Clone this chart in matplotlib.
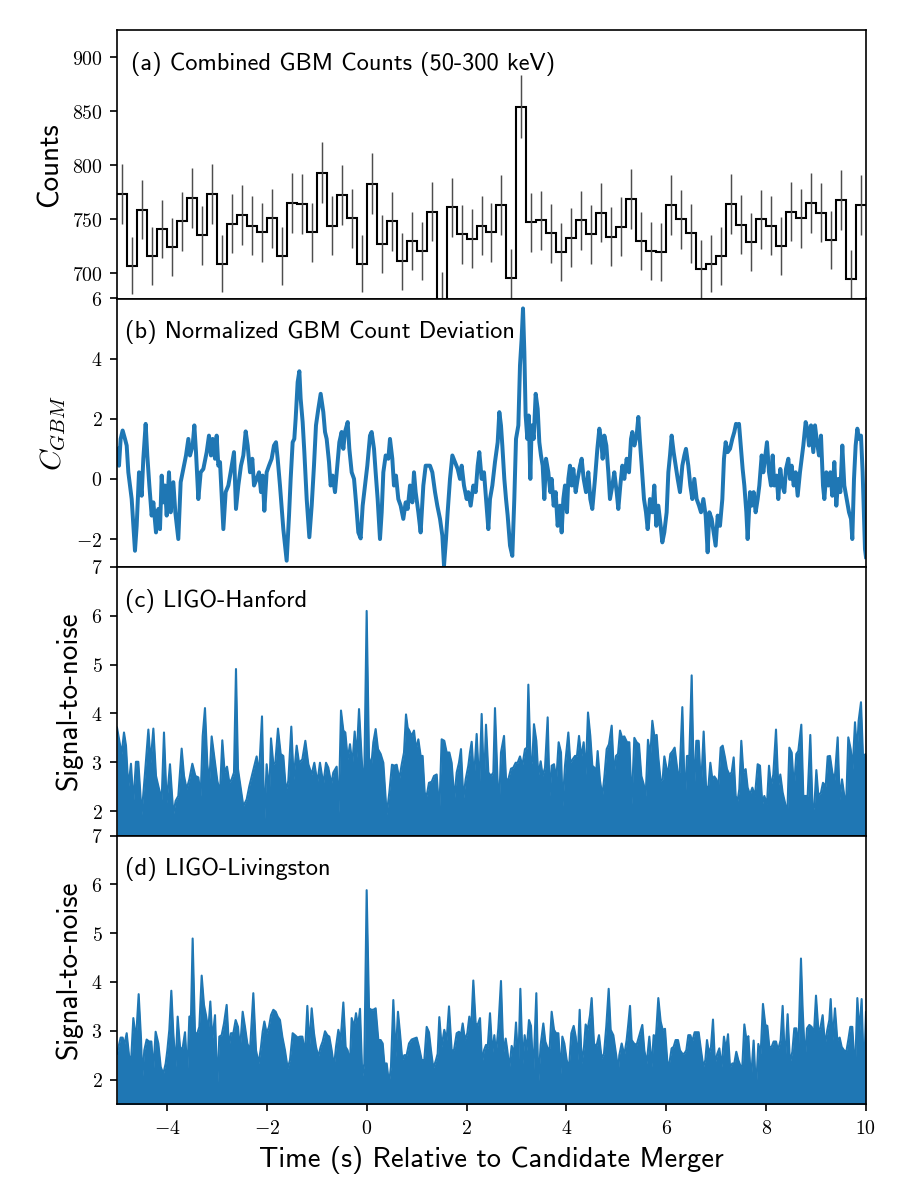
import numpy as np
import matplotlib
matplotlib.use("Agg")
import matplotlib.pyplot as plt
from matplotlib.ticker import FuncFormatter

plt.rcParams['mathtext.fontset'] = 'cm'

# (a) combined GBM counts, 0.2 s bins from -5 to 10 s
bin_start = -5.0
bin_width = 0.2
counts = [773, 707, 759, 716, 741, 724, 748, 770, 735, 773,
          709, 746, 754, 744, 738, 751, 716, 765, 764, 738,
          793, 744, 772, 751, 709, 783, 727, 748, 711, 730,
          721, 757, 675, 761, 736, 732, 744, 738, 763, 696,
          854, 747, 749, 737, 720, 733, 749, 736, 756, 734,
          743, 769, 730, 721, 720, 763, 750, 737, 704, 709,
          716, 764, 745, 729, 750, 744, 725, 757, 751, 765,
          756, 731, 768, 695, 763]

# (b) normalized GBM count deviation
t_dev = [-5.000, -4.960, -4.927, -4.887, -4.840, -4.806, -4.773, -4.740, -4.706, -4.673,
         -4.640, -4.606, -4.559, -4.506, -4.473, -4.426, -4.393, -4.352, -4.306, -4.272,
         -4.219, -4.172, -4.139, -4.105, -4.072, -4.039, -4.005, -3.959, -3.925, -3.872,
         -3.832, -3.772, -3.725, -3.672, -3.618, -3.571, -3.538, -3.485, -3.451, -3.418,
         -3.371, -3.324, -3.271, -3.204, -3.158, -3.118, -3.084, -3.037, -3.004, -2.971,
         -2.937, -2.870, -2.824, -2.770, -2.724, -2.657, -2.617, -2.570, -2.517, -2.470,
         -2.423, -2.383, -2.336, -2.290, -2.256, -2.203, -2.156, -2.116, -2.083, -2.049,
         -2.003, -1.956, -1.903, -1.856, -1.816, -1.782, -1.736, -1.669, -1.602, -1.555,
         -1.522, -1.482, -1.449, -1.422, -1.382, -1.348, -1.322, -1.282, -1.248, -1.201,
         -1.148, -1.101, -1.055, -1.015, -0.968, -0.921, -0.868, -0.834, -0.801, -0.754,
         -0.721, -0.681, -0.634, -0.587, -0.547, -0.501, -0.467, -0.434, -0.380, -0.347,
         -0.300, -0.253, -0.213, -0.167, -0.120, -0.080, -0.033, 0.013, 0.067, 0.100,
         0.147, 0.180, 0.220, 0.267, 0.301, 0.334, 0.381, 0.434, 0.467, 0.514,
         0.547, 0.587, 0.634, 0.681, 0.734, 0.781, 0.821, 0.868, 0.915, 0.948,
         0.981, 1.035, 1.081, 1.135, 1.182, 1.222, 1.268, 1.315, 1.369, 1.415,
         1.469, 1.516, 1.549, 1.589, 1.622, 1.669, 1.716, 1.769, 1.823, 1.869,
         1.903, 1.949, 2.003, 2.036, 2.083, 2.136, 2.183, 2.223, 2.256, 2.303,
         2.350,
         2.370, 2.437, 2.470, 2.517, 2.570, 2.624, 2.657, 2.690, 2.717, 2.757,
         2.791, 2.824, 2.871, 2.917, 2.957, 2.991, 3.038, 3.071, 3.104, 3.131,
         3.158, 3.184, 3.218, 3.245, 3.278, 3.305, 3.345, 3.385, 3.425, 3.458,
         3.491, 3.525, 3.558, 3.592, 3.638, 3.678, 3.705, 3.745, 3.785, 3.825,
         3.872, 3.905, 3.939, 3.972, 4.012, 4.039, 4.072, 4.106, 4.139, 4.186,
         4.226, 4.273, 4.306, 4.346, 4.393, 4.439, 4.479, 4.519, 4.573, 4.620,
         4.660, 4.693, 4.726, 4.760, 4.800, 4.840, 4.873, 4.920, 4.960, 5.007,
         5.040, 5.080, 5.120, 5.160, 5.207, 5.254, 5.294, 5.321, 5.361, 5.407,
         5.441, 5.474, 5.508, 5.554, 5.594, 5.628, 5.674, 5.721, 5.761, 5.801,
         5.841, 5.888, 5.921, 5.961, 6.008, 6.042, 6.075, 6.108, 6.148, 6.188,
         6.229, 6.275, 6.322, 6.362, 6.395, 6.442, 6.482, 6.522, 6.562, 6.609,
         6.656, 6.696, 6.743, 6.789, 6.829, 6.863, 6.909, 6.949, 6.989, 7.030,
         7.076, 7.123, 7.156, 7.190, 7.230, 7.277, 7.323, 7.363, 7.397, 7.430,
         7.457, 7.497, 7.530, 7.564, 7.604, 7.630, 7.677, 7.710, 7.750, 7.790,
         7.831, 7.864, 7.911, 7.944, 7.977, 8.017, 8.058, 8.098, 8.131, 8.164,
         8.211, 8.244, 8.284, 8.325, 8.365, 8.398, 8.445, 8.478, 8.512, 8.552,
         8.592, 8.632, 8.678, 8.712, 8.745, 8.792, 8.825, 8.859, 8.899, 8.945,
         8.979, 9.019, 9.059, 9.099, 9.139, 9.166, 9.206, 9.246, 9.286, 9.326,
         9.366, 9.406, 9.446, 9.486, 9.526, 9.566, 9.613, 9.660, 9.700, 9.726,
         9.760, 9.793, 9.827, 9.860, 9.900, 9.933, 9.980, 10.000]
c_dev = [1.00, 0.44, 1.33, 1.61, 1.33, 1.11, 0.22, -0.22, -0.67, -1.56,
         -2.39, -1.56, 0.22, -0.56, 0.67, 1.83, 0.78, -0.22, -1.22, -0.78,
         -1.78, -1.00, -1.67, 0.11, -0.78, -0.22, -1.22, 0.22, -1.11, -0.11,
         -1.11, -2.00, -0.11, 0.33, 0.78, 1.33, 0.78, 1.11, 1.78, 0.89,
         -0.67, 0.22, 0.33, 0.89, 1.44, 0.78, 1.33, 0.67, 1.44, 0.44,
         0.56, -1.67, -0.44, -0.22, 0.22, 0.89, -1.00, -0.22, 0.44, 0.78,
         1.58, 1.11, 0.22, 0.67, -0.22, 0.00, 0.22, -0.44, 0.11, -1.06,
         0.22, 0.44, 0.67, 1.11, 1.22, 0.67, -0.22, -1.67, -2.72, -1.22,
         0.00, 1.22, 1.33, 2.00, 3.22, 3.58, 2.67, 1.89, 0.89, -0.67,
         -1.94, -0.89, 0.44, 1.78, 2.33, 2.83, 2.22, 1.56, 1.33, 0.56,
         -0.22, 0.11, -0.44, 0.44, 1.22, 1.56, 1.00, 1.56, 1.89, 1.00,
         0.22, 0.00, -0.78, -1.78, -1.98, -0.89, -0.22, 0.44, 1.44, 1.56,
         1.00, 0.22, -0.67, -2.00, -1.11, 0.22, 0.78, 0.67, 1.33, 0.67,
         -0.22, 0.11, -0.67, -0.89, -1.33, -0.78, -1.00, -0.22, -0.78, 0.22,
         -0.44, -1.11, -1.78, -0.22, 0.44, 0.44, 0.44, 0.22, -0.44, -0.89,
         -1.33, -1.89, -2.89, -2.00, -1.11, 0.00, 0.78, 0.56, 0.33, 0.00,
         0.44, -0.22, -0.67, -0.44, -0.89, -0.22, -0.44, 0.44, 0.89, 0.00,
         0.22,
         -0.22, -1.67, -0.67, -0.22, 0.56, 1.22, 2.22, 1.78, 1.11, 0.00,
         -0.67, -1.22, -2.22, -2.56, -0.67, 1.33, 1.78, 3.78, 4.67, 5.67,
         4.22, 2.11, 1.33, 2.11, 0.00, 1.78, 1.33, 2.83, 2.33, 1.22,
         0.78, 0.44, -0.67, 0.67, 0.22, -0.44, 0.00, -0.89, -0.44, -1.56,
         -0.89, -1.78, -0.67, -0.22, -1.11, 0.00, 0.44, -0.22, 0.33, -0.44,
         0.00, 0.44, 0.67, 0.00, -0.44, 0.22, -0.67, -1.00, 0.00, 1.00,
         1.67, 1.33, 0.67, 1.44, 1.11, 0.22, -0.67, -0.22, 0.22, -0.44,
         -1.00, -0.22, 0.44, 0.00, 0.67, 0.22, 1.33, 1.56, 1.11, 1.44,
         2.06, 1.22, 0.44, -0.67, -1.11, -1.67, -0.67, -1.11, -0.22, -1.56,
         -0.89, -1.56, -2.11, -1.78, -1.11, 0.22, 0.78, 1.44, 0.89, 0.44,
         0.00, -0.44, 0.44, 0.78, 1.00, 0.44, -0.22, -0.67, 0.00, -0.67,
         -0.89, -1.11, -0.67, -1.22, -2.44, -1.11, -1.33, -1.78, -2.22, -1.22,
         -1.56, -0.67, 0.67, 1.22, 0.89, 1.00, 1.33, 1.56, 1.83, 1.78,
         1.83, 1.00, 0.33, -0.22, -1.11, -2.00, -0.44, -0.89, -0.44, -1.11,
         -0.67, -0.22, 0.78, 0.22, 0.67, 1.22, 0.22, -0.22, 0.78, -0.22,
         0.11, -0.67, 0.33, -0.22, -0.44, 0.33, 0.67, 0.00, 0.44, -0.22,
         0.22, -0.56, 0.22, 0.67, 1.11, 1.89, 1.67, 1.11, 1.78, 0.89,
         1.78, 1.22, 0.78, 1.44, -0.22, -0.67, 0.22, -0.22, 0.22, -0.56,
         0.56, -0.89, 0.00, -0.44, 1.11, -0.22, -0.67, -1.11, -1.33, -2.00,
         0.00, 1.11, 1.67, 1.33, 1.44, 0.22, -2.33, -2.60]

# (c) LIGO-Hanford signal-to-noise
t_han = [-5.000, -4.907, -4.860, -4.820, -4.773, -4.720, -4.673, -4.620, -4.573, -4.506,
         -4.439, -4.372, -4.326, -4.272, -4.219, -4.172, -4.105, -4.059, -4.005, -3.939,
         -3.872, -3.825, -3.772, -3.705, -3.658, -3.605, -3.551, -3.491, -3.431, -3.371,
         -3.324, -3.284, -3.238, -3.191, -3.151, -3.104, -3.037, -2.991, -2.937, -2.891,
         -2.844, -2.797, -2.750, -2.704, -2.657, -2.617, -2.577, -2.523, -2.470, -2.403,
         -2.350, -2.283, -2.203, -2.156, -2.096, -2.049, -2.003, -1.949, -1.916, -1.869,
         -1.829, -1.776, -1.722, -1.669, -1.616, -1.569, -1.509, -1.462, -1.402, -1.355,
         -1.288, -1.228, -1.168, -1.101, -1.048, -0.988, -0.935, -0.868, -0.814, -0.768,
         -0.708, -0.668, -0.601, -0.561, -0.514, -0.467, -0.427, -0.380, -0.334, -0.287,
         -0.240, -0.200, -0.153, -0.100, -0.053, 0.000, 0.047, 0.093, 0.134, 0.180,
         0.227, 0.280, 0.334, 0.401, 0.454, 0.507, 0.554, 0.601, 0.654, 0.701,
         0.748, 0.788, 0.821, 0.854, 0.901, 0.948, 0.988, 1.035, 1.081, 1.121,
         1.162, 1.202, 1.248, 1.302, 1.348, 1.402, 1.455, 1.502, 1.555, 1.602,
         1.656, 1.702, 1.756, 1.803, 1.849, 1.889, 1.936, 1.983, 2.036, 2.069,
         2.103, 2.150, 2.203, 2.256, 2.303, 2.350,
         2.390, 2.437, 2.490, 2.537, 2.570, 2.617, 2.650, 2.690, 2.751, 2.791,
         2.837, 2.891, 2.937, 2.984, 3.024, 3.071, 3.118, 3.171, 3.211, 3.238,
         3.285, 3.318, 3.351, 3.398, 3.438, 3.485, 3.525, 3.572, 3.625, 3.665,
         3.705, 3.752, 3.799, 3.845, 3.892, 3.925, 3.972, 4.039, 4.079, 4.126,
         4.172, 4.212, 4.253, 4.299, 4.346, 4.386, 4.433, 4.479, 4.519, 4.560,
         4.593, 4.626, 4.673, 4.720, 4.760, 4.807, 4.853, 4.907, 4.953, 4.993,
         5.034, 5.074, 5.114, 5.160, 5.214, 5.261, 5.307, 5.361, 5.407, 5.454,
         5.501, 5.548, 5.588, 5.634, 5.681, 5.721, 5.761, 5.808, 5.841, 5.888,
         5.928, 5.962, 6.008, 6.042, 6.082, 6.128, 6.168, 6.229, 6.269, 6.322,
         6.375, 6.415, 6.462, 6.509, 6.556, 6.602, 6.649, 6.696, 6.749, 6.796,
         6.843, 6.883, 6.923, 6.963, 7.003, 7.043, 7.090, 7.130, 7.176, 7.216,
         7.263, 7.310, 7.350, 7.390, 7.430, 7.463, 7.503, 7.544, 7.590, 7.630,
         7.677, 7.724, 7.777, 7.831, 7.877, 7.924, 7.964, 8.017, 8.058, 8.098,
         8.144, 8.198, 8.244, 8.284, 8.331, 8.378, 8.425, 8.465, 8.512, 8.558,
         8.605, 8.645, 8.705, 8.745, 8.792, 8.832, 8.885, 8.932, 8.966, 9.006,
         9.046, 9.099, 9.139, 9.193, 9.233, 9.279, 9.326, 9.373, 9.433, 9.473,
         9.520, 9.566, 9.606, 9.646, 9.693, 9.733, 9.780, 9.820, 9.853, 9.900,
         9.940, 10.000]
snr_han = [3.71, 3.17, 3.61, 3.34, 2.48, 2.97, 2.17, 3.01, 3.01, 1.93,
           2.78, 3.67, 2.99, 3.69, 2.72, 2.51, 2.24, 3.61, 2.17, 2.96,
           1.93, 2.21, 2.31, 3.28, 2.72, 2.45, 2.65, 2.97, 2.72, 2.69,
           2.31, 3.54, 4.11, 2.96, 2.58, 3.53, 2.99, 2.62, 2.38, 3.45,
           2.79, 2.91, 2.58, 2.65, 2.79, 4.91, 2.86, 2.48, 2.10, 2.24,
           2.51, 2.79, 3.12, 2.75, 3.94, 1.76, 2.96, 2.38, 3.49, 2.96,
           2.99, 3.69, 3.17, 3.13, 2.41, 2.62, 3.73, 2.65, 3.34, 2.99,
           3.06, 3.44, 2.96, 2.75, 2.99, 2.58, 2.99, 2.55, 2.99, 2.89,
           2.55, 2.79, 2.91, 1.97, 4.06, 3.65, 3.61, 3.06, 3.37, 2.96,
           3.63, 3.10, 4.09, 3.08, 2.31, 6.10, 3.10, 2.93, 3.41, 3.68,
           3.27, 3.17, 2.99, 1.93, 2.38, 2.95, 2.93, 2.95, 2.65, 2.95,
           3.20, 3.98, 3.71, 3.65, 3.54, 3.65, 3.27, 3.47, 3.13, 3.13,
           2.38, 2.31, 2.58, 2.60, 2.72, 2.75, 1.97, 3.47, 3.44, 3.20,
           3.20, 2.99, 2.24, 2.79, 2.99, 3.27, 2.24, 2.65, 2.93, 3.20,
           3.42, 2.65, 3.58, 2.48, 3.99, 2.51,
           3.77, 2.79, 2.72, 2.79, 4.11, 2.75, 2.03, 3.20, 3.54, 2.65,
           2.65, 2.87, 2.89, 2.99, 2.99, 3.12, 2.93, 3.27, 3.30, 4.59,
           2.93, 3.03, 3.78, 3.44, 2.72, 3.02, 2.72, 2.89, 3.92, 2.31,
           2.93, 2.96, 2.65, 3.41, 3.20, 2.10, 2.93, 3.61, 2.99, 3.06,
           3.13, 3.13, 3.54, 3.10, 3.41, 2.75, 4.02, 3.54, 2.93, 2.89,
           2.75, 3.23, 2.62, 2.31, 2.69, 3.27, 3.37, 3.75, 2.75, 3.13,
           3.17, 3.65, 3.51, 3.53, 3.41, 3.41, 2.14, 3.50, 3.41, 3.37,
           2.72, 2.55, 2.31, 3.46, 3.12, 3.85, 3.54, 3.56, 3.10, 2.62,
           2.65, 3.12, 2.86, 2.82, 3.17, 3.23, 3.30, 2.79, 2.79, 4.13,
           2.17, 3.13, 3.13, 4.78, 2.38, 3.44, 3.44, 2.45, 3.63, 2.51,
           2.48, 2.99, 2.65, 2.71, 2.65, 2.48, 3.30, 3.34, 3.10, 2.86,
           2.75, 2.79, 3.10, 2.31, 2.21, 2.45, 3.44, 2.79, 2.86, 2.48,
           2.34, 2.48, 2.31, 2.96, 2.93, 2.14, 2.31, 2.14, 2.93, 2.51,
           2.75, 3.67, 2.51, 2.75, 2.38, 2.17, 1.93, 3.30, 3.20, 2.45,
           3.17, 3.23, 3.77, 2.31, 2.31, 2.31, 3.56, 1.97, 2.10, 2.84,
           2.31, 2.38, 2.58, 2.51, 3.12, 3.13, 2.79, 2.64, 3.51, 2.24,
           2.65, 2.31, 2.24, 3.51, 3.27, 2.86, 3.82, 3.20, 3.85, 4.23,
           3.13, 3.17]

# (d) LIGO-Livingston signal-to-noise
t_liv = [-5.000, -4.927, -4.887, -4.853, -4.806, -4.760, -4.720, -4.673, -4.620, -4.566,
         -4.519, -4.493, -4.453, -4.406, -4.359, -4.312, -4.272, -4.226, -4.172, -4.125,
         -4.072, -4.025, -3.992, -3.952, -3.912, -3.872, -3.825, -3.785, -3.738, -3.692,
         -3.638, -3.591, -3.551, -3.518, -3.485, -3.438, -3.391, -3.351, -3.304, -3.258,
         -3.218, -3.171, -3.131, -3.091, -3.037, -2.991, -2.951, -2.904, -2.857, -2.804,
         -2.757, -2.717, -2.670, -2.624, -2.577, -2.537, -2.483, -2.437, -2.390, -2.336,
         -2.270, -2.216, -2.163, -2.116, -2.083, -2.049, -2.003, -1.956, -1.916, -1.869,
         -1.822, -1.782, -1.736, -1.689, -1.636, -1.582, -1.535, -1.482, -1.435, -1.382,
         -1.335, -1.288, -1.235, -1.188, -1.148, -1.101, -1.055, -1.015, -0.968, -0.921,
         -0.881, -0.834, -0.788, -0.748, -0.701, -0.654, -0.614, -0.567, -0.521, -0.467,
         -0.421, -0.381, -0.334, -0.300, -0.253, -0.213, -0.173, -0.133, -0.087, -0.047,
         0.000, 0.047, 0.093, 0.134, 0.180, 0.234, 0.280, 0.321, 0.354, 0.401,
         0.447, 0.487, 0.534, 0.581, 0.627, 0.668, 0.714, 0.754, 0.801, 0.848,
         0.901, 0.948, 1.001, 1.048, 1.102, 1.155, 1.202, 1.248, 1.288, 1.335,
         1.389, 1.422, 1.455, 1.502, 1.555, 1.602, 1.649, 1.702, 1.749, 1.803,
         1.849, 1.889, 1.923, 1.969, 2.016, 2.056, 2.089, 2.136, 2.183, 2.223,
         2.270, 2.310, 2.350,
         2.390, 2.423, 2.470, 2.517, 2.557, 2.590, 2.637, 2.690, 2.737, 2.784,
         2.817, 2.857, 2.904, 2.951, 2.991, 3.038, 3.078, 3.124, 3.164, 3.204,
         3.251, 3.291, 3.338, 3.398, 3.438, 3.485, 3.538, 3.578, 3.625, 3.665,
         3.705, 3.752, 3.792, 3.839, 3.885, 3.919, 3.959, 4.006, 4.052, 4.099,
         4.146, 4.186, 4.226, 4.266, 4.306, 4.353, 4.386, 4.426, 4.473, 4.506,
         4.553, 4.600, 4.653, 4.706, 4.753, 4.800, 4.847, 4.887, 4.940, 4.993,
         5.040, 5.060, 5.107, 5.160, 5.207, 5.240, 5.274, 5.307, 5.354, 5.407,
         5.454, 5.481, 5.521, 5.561, 5.608, 5.661, 5.708, 5.748, 5.794, 5.841,
         5.888, 5.928, 5.975, 6.022, 6.062, 6.108, 6.148, 6.188, 6.235, 6.275,
         6.322, 6.362, 6.402, 6.442, 6.482, 6.522, 6.569, 6.609, 6.649, 6.696,
         6.743, 6.783, 6.816, 6.856, 6.896, 6.936, 6.976, 7.023, 7.063, 7.110,
         7.156, 7.196, 7.237, 7.277, 7.323, 7.363, 7.403, 7.443, 7.483, 7.523,
         7.564, 7.610, 7.644, 7.697, 7.750, 7.797, 7.844, 7.891, 7.937, 7.984,
         8.024, 8.064, 8.111, 8.151, 8.198, 8.238, 8.291, 8.331, 8.378, 8.431,
         8.478, 8.525, 8.565, 8.605, 8.645, 8.698, 8.732, 8.779, 8.819, 8.865,
         8.912, 8.959, 8.999, 9.046, 9.086, 9.132, 9.179, 9.226, 9.266, 9.293,
         9.333, 9.379, 9.426, 9.473, 9.513, 9.560, 9.606, 9.646, 9.686, 9.726,
         9.780, 9.827, 9.867, 9.913, 9.960, 10.000]
snr_liv = [2.53, 2.86, 2.86, 2.71, 2.95, 2.50, 2.33, 3.26, 2.81, 3.75,
           2.84, 2.02, 2.60, 2.82, 2.78, 2.78, 2.19, 2.98, 2.74, 2.26,
           2.12, 2.33, 2.60, 3.02, 3.82, 2.95, 2.26, 3.29, 2.67, 2.60,
           2.97, 2.14, 3.29, 3.30, 4.89, 2.95, 2.95, 3.08, 4.13, 3.53,
           3.32, 3.02, 3.60, 2.81, 3.32, 1.85, 2.88, 2.91, 3.15, 3.53,
           2.67, 2.95, 2.95, 3.22, 3.08, 2.60, 3.39, 3.08, 2.74, 2.60,
           3.77, 2.60, 2.33, 2.67, 2.98, 3.19, 2.95, 3.08, 3.32, 3.43,
           3.39, 3.29, 3.22, 2.88, 2.60, 2.23, 2.40, 2.95, 2.91, 2.86,
           2.88, 2.88, 2.53, 3.51, 2.67, 3.46, 2.95, 2.67, 2.47, 2.67,
           2.78, 2.99, 2.91, 2.88, 2.60, 2.26, 2.67, 3.02, 2.81, 3.58,
           2.67, 2.60, 2.33, 3.26, 3.08, 3.36, 3.08, 3.45, 2.05, 2.33,
           5.88, 3.46, 3.43, 3.43, 3.46, 2.81, 2.81, 2.74, 2.33, 2.33,
           1.92, 2.26, 3.63, 2.47, 3.39, 2.95, 2.40, 2.50, 2.50, 2.74,
           2.82, 2.84, 2.86, 2.67, 2.40, 2.40, 3.08, 2.97, 2.60, 2.23,
           2.40, 2.53, 3.28, 2.67, 3.02, 2.81, 3.50, 2.60, 2.60, 2.95,
           2.98, 2.91, 3.15, 2.81, 2.95, 3.29, 2.95, 4.03, 3.15, 3.12,
           3.26, 2.33, 2.60,
           2.71, 2.64, 3.36, 2.53, 2.91, 2.53, 3.05, 4.02, 2.55, 2.84,
           2.60, 2.23, 2.69, 2.53, 3.17, 2.29, 3.86, 2.33, 2.91, 2.60,
           3.22, 3.10, 2.11, 3.77, 1.92, 2.71, 3.15, 2.78, 2.64, 2.64,
           3.39, 3.02, 2.95, 2.95, 2.12, 2.88, 2.74, 2.40, 2.23, 2.95,
           3.10, 2.88, 2.40, 3.43, 2.33, 2.67, 3.13, 3.02, 3.32, 3.67,
           2.74, 2.67, 2.91, 2.43, 2.53, 3.10, 3.86, 3.02, 2.91, 2.53,
           2.19, 2.50, 2.74, 2.50, 2.81, 3.14, 3.51, 2.81, 2.74, 2.71,
           2.88, 2.98, 3.12, 2.60, 2.33, 2.88, 2.26, 2.91, 2.88, 3.67,
           3.19, 3.02, 3.04, 2.36, 2.33, 2.64, 2.67, 2.81, 2.81, 2.60,
           2.53, 2.53, 2.60, 2.91, 2.91, 2.78, 2.97, 2.97, 2.97, 2.60,
           2.26, 2.40, 2.81, 2.53, 2.67, 3.23, 2.33, 2.53, 2.64, 2.26,
           2.88, 2.60, 2.93, 2.26, 2.33, 2.33, 2.57, 2.40, 2.29, 2.26,
           3.13, 2.78, 2.89, 1.99, 2.80, 1.78, 2.73, 2.53, 3.55, 3.12,
           3.10, 2.67, 2.67, 2.78, 2.78, 2.60, 2.81, 3.51, 2.33, 3.34,
           2.33, 2.57, 3.05, 3.05, 2.60, 4.48, 3.43, 2.40, 3.05, 3.12,
           3.08, 2.95, 3.72, 3.02, 3.05, 3.32, 2.71, 3.02, 3.22, 3.65,
           2.81, 3.46, 2.81, 2.86, 2.67, 2.60, 2.57, 2.81, 3.08, 3.08,
           2.12, 3.67, 2.95, 3.65, 2.05, 3.38]

labels = ['(a) Combined GBM Counts (50-300 keV)',
          '(b) Normalized GBM Count Deviation',
          '(c) LIGO-Hanford',
          '(d) LIGO-Livingston']

BLUE = '#1f77b4'
SANS = 'cmss10'

fig, axs = plt.subplots(4, 1, sharex=True, figsize=(6, 8), dpi=150)
fig.subplots_adjust(left=0.13, right=0.9622, top=0.975, bottom=0.08, hspace=0)

tex = FuncFormatter(lambda v, p: '$%g$' % v)

# panel a
ax = axs[0]
counts = np.array(counts, dtype=float)
edges = bin_start + bin_width * np.arange(len(counts) + 1)
centers = 0.5 * (edges[:-1] + edges[1:])
ax.errorbar(centers, counts, yerr=np.sqrt(counts), fmt='none',
            ecolor='0.3', elinewidth=0.7)
ax.stairs(counts, edges, baseline=None, color='k', lw=1.0)
ax.set_ylim(676.7, 925)
ax.set_yticks([700, 750, 800, 850, 900])
ax.set_ylabel('Counts', family=SANS, fontsize=14)

# panel b
ax = axs[1]
ax.plot(t_dev, c_dev, color=BLUE, lw=1.9)
ax.set_ylim(-2.93, 6)
ax.set_yticks([-2, 0, 2, 4, 6])
ax.set_ylabel(r'$C_{GBM}$', fontsize=14)

# panels c, d
for ax, t, s in [(axs[2], t_han, snr_han), (axs[3], t_liv, snr_liv)]:
    ax.plot(t, s, color=BLUE, lw=1.0)
    ax.fill_between(t, s, 0, color=BLUE, lw=0)
    ax.set_ylim(1.5, 7)
    ax.set_yticks([2, 3, 4, 5, 6, 7])
    ax.set_ylabel('Signal-to-noise', family=SANS, fontsize=14)

for i, ax in enumerate(axs):
    ax.yaxis.set_major_formatter(tex)
    ax.tick_params(labelsize=9.5)
    ax.text(0.019 if i == 0 else 0.011, 0.875, labels[i], transform=ax.transAxes,
            family=SANS, fontsize=11.7, va='center', ha='left')
    if i < 3:
        ax.tick_params(axis='x', bottom=False)

ax = axs[3]
ax.set_xlim(-5, 10)
ax.set_xticks([-4, -2, 0, 2, 4, 6, 8, 10])
ax.xaxis.set_major_formatter(tex)
ax.set_xlabel('Time (s) Relative to Candidate Merger', family=SANS, fontsize=13.7)

fig.savefig('out.png', dpi=150)
